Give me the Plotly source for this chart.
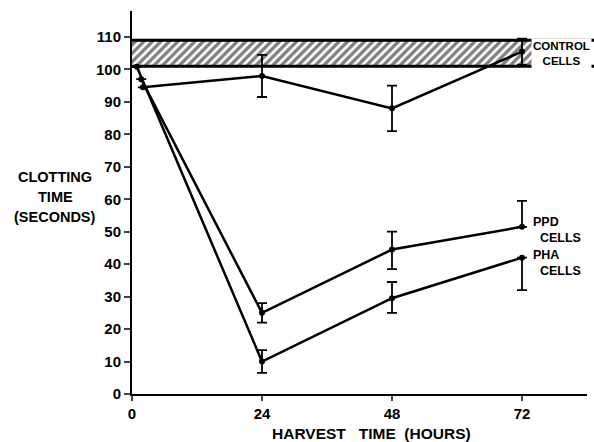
import plotly.graph_objects as go

# Data
hours_ctrl = [2, 24, 48, 72]
ctrl_vals = [94.5, 98, 88, 105.5]
ctrl_err_up = [0, 6.5, 7, 4]
ctrl_err_dn = [0, 6.5, 7, 4]

hours_ppd = [1.7, 24, 48, 72]
ppd_vals = [97, 25, 44.5, 51.5]
ppd_err_up = [0, 3, 5.5, 8]
ppd_err_dn = [0, 3, 6, 0]

hours_pha = [0.9, 24, 48, 72]
pha_vals = [100.8, 10, 29.5, 42]
pha_err_up = [0, 3.5, 5, 0]
pha_err_dn = [0, 3.5, 4.5, 10]

band_low, band_high = 101, 109
x_ticks = [0, 24, 48, 72]
y_ticks = list(range(0, 111, 10))
y_title_lines = ["CLOTTING", "TIME", "(SECONDS)"]

FONT = "Liberation Sans"
fig = go.Figure()

# control band (hatched)
fig.add_trace(go.Scatter(
    x=[0, 84, 84, 0, 0], y=[band_low, band_low, band_high, band_high, band_low],
    mode="lines", fill="toself",
    fillpattern=dict(shape="/", fgcolor="black", bgcolor="white", size=6, solidity=0.55),
    line=dict(color="rgba(0,0,0,0)", width=0), hoverinfo="skip", showlegend=False))
for yv in (band_low, band_high):
    fig.add_shape(type="line", xref="paper", yref="y", x0=0, x1=1.02, y0=yv, y1=yv,
                  line=dict(color="black", width=3))

def series(x, y, up, dn):
    fig.add_trace(go.Scatter(
        x=x, y=y, mode="lines+markers",
        line=dict(color="black", width=2.5),
        marker=dict(color="black", size=6),
        error_y=dict(type="data", array=up, arrayminus=dn, symmetric=False,
                     color="black", thickness=1.8, width=5),
        showlegend=False, cliponaxis=False))

series(hours_ctrl, ctrl_vals, ctrl_err_up, ctrl_err_dn)
series(hours_ppd, ppd_vals, ppd_err_up, ppd_err_dn)
series(hours_pha, pha_vals, pha_err_up, pha_err_dn)

fig.update_layout(
    width=594, height=442,
    margin=dict(l=132, r=7, t=11, b=48),
    plot_bgcolor="white", paper_bgcolor="white",
    font=dict(family=FONT, color="black", size=14),
    xaxis=dict(range=[0, 84], tickvals=x_ticks, ticks="outside", ticklen=5,
               tickwidth=1.5, showline=True, linecolor="black", linewidth=2,
               showgrid=False, zeroline=False,
               tickfont=dict(family=FONT, size=15, weight="bold")),
    yaxis=dict(range=[0, 118], tickvals=y_ticks, ticks="outside", ticklen=6,
               tickwidth=1.5, showline=True, linecolor="black", linewidth=2,
               showgrid=False, zeroline=False,
               tickfont=dict(family=FONT, size=15, weight="bold")),
)

lab = dict(family=FONT, size=14.5, weight="bold")
for i, t in enumerate(y_title_lines):
    fig.add_annotation(xref="paper", yref="paper", x=-0.169, y=0.567 - i * 0.052,
                       xanchor="center", yanchor="middle", text=t, showarrow=False, font=lab)
fig.add_annotation(xref="x", yref="paper", x=44.3, y=-0.104, xanchor="center", yanchor="middle",
                   text="HARVEST&nbsp;&nbsp;&nbsp;TIME&nbsp;&nbsp;(HOURS)", showarrow=False,
                   font=dict(family=FONT, size=15.5, weight="bold"))

small = dict(family=FONT, size=11.5, weight="bold")
mid = dict(family=FONT, size=12.5, weight="bold")
fig.add_annotation(x=73.6, y=105, xref="x", yref="y", xanchor="left", yanchor="middle",
                   text="CONTROL<br>CELLS", showarrow=False, font=small, align="center",
                   bgcolor="white", borderpad=1)
fig.add_annotation(x=73.6, y=50.5, xref="x", yref="y", xanchor="left", yanchor="middle",
                   text="PPD<br>&nbsp;&nbsp;CELLS", showarrow=False, font=mid, align="left")
fig.add_annotation(x=73.6, y=40.5, xref="x", yref="y", xanchor="left", yanchor="middle",
                   text="PHA<br>&nbsp;&nbsp;CELLS", showarrow=False, font=mid, align="left")

fig.write_html("out.html", config={"displayModeBar": False},
               post_script="document.body.style.margin='0';")
